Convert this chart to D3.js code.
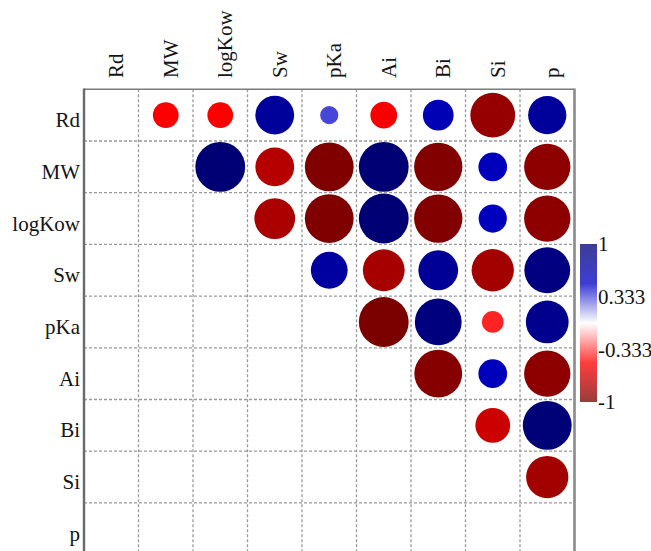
<!DOCTYPE html>
<html>
<head>
<meta charset="utf-8">
<script src="https://cdn.jsdelivr.net/npm/d3@7"></script>
<style>
  html, body { margin: 0; padding: 0; background: #fff; }
  svg { display: block; }
</style>
</head>
<body>
<svg id="chart" width="651" height="551"></svg>
<script>
// Variables of the correlation matrix
const variables = ["Rd", "MW", "logKow", "Sw", "pKa", "Ai", "Bi", "Si", "p"];

// Upper-triangle correlation coefficients, one array per row (columns to the right of the diagonal)
const rowRd     = [-0.51, -0.51, 0.77, 0.36, -0.53, 0.61, -0.89, 0.76];
const rowMW     = [0.99, -0.77, -0.97, 0.99, -0.96, 0.57, -0.92];
const rowLogKow = [-0.81, -0.97, 0.99, -0.96, 0.56, -0.92];
const rowSw     = [0.73, -0.83, 0.79, -0.84, 0.91];
const rowPKa    = [-0.99, 0.93, -0.43, 0.85];
const rowAi     = [-0.95, 0.57, -0.92];
const rowBi     = [-0.69, 0.97];
const rowSi     = [-0.84];
const upperRows = [rowRd, rowMW, rowLogKow, rowSw, rowPKa, rowAi, rowBi, rowSi, []];

// Colour bar tick labels
const legendTicks = [1, 0.333, -0.333, -1];

const FONT = "'Liberation Serif', 'Times New Roman', Times, serif";
const FONT_SIZE = 21;

// Flatten into cell records
const cells = [];
upperRows.forEach((vals, i) => {
  vals.forEach((v, k) => {
    const j = i + 1 + k;
    cells.push({ row: variables[i], col: variables[j], value: v });
  });
});

const svg = d3.select("#chart");

// Plot frame
const frameLeft = 84, frameRight = 574.5, frameTop = 89.3, rowH = 51.7;
const frameBottom = frameTop + rowH * variables.length;

const x = d3.scaleBand().domain(variables).range([frameLeft, frameRight]).padding(0);
const y = d3.scaleBand().domain(variables).range([frameTop, frameBottom]).padding(0);

// Diverging colour scale: dark red -> red -> white -> blue -> navy
const color = d3.scaleLinear()
  .domain([-1, -0.5, 0, 0.5, 1])
  .range(["#780000", "#ff0000", "#ffffff", "#0000c8", "#000072"])
  .interpolate(d3.interpolateRgb);

// Circle radius proportional to |r|
const radius = d3.scaleLinear().domain([0, 1]).range([0, y.bandwidth() * 0.487]);

// Dashed cell grid
const grid = svg.append("g").attr("class", "grid");
d3.range(1, variables.length).forEach(k => {
  const xv = frameLeft + x.step() * k;
  grid.append("line")
    .attr("x1", xv).attr("x2", xv).attr("y1", frameTop).attr("y2", frameBottom);
});
d3.range(1, variables.length + 1).forEach(k => {
  const yv = frameTop + y.step() * k;
  grid.append("line")
    .attr("x1", frameLeft).attr("x2", frameRight).attr("y1", yv).attr("y2", yv);
});
grid.selectAll("line")
  .attr("stroke", "#9a9a9a")
  .attr("stroke-width", 1.3)
  .attr("stroke-dasharray", "3,2");

// Frame borders
svg.append("line").attr("x1", frameLeft).attr("x2", frameRight).attr("y1", frameTop).attr("y2", frameTop)
  .attr("stroke", "#7a7a7a").attr("stroke-width", 1.6);
svg.append("line").attr("x1", frameLeft).attr("x2", frameLeft).attr("y1", frameTop - 0.8).attr("y2", frameBottom)
  .attr("stroke", "#6a6a6a").attr("stroke-width", 2.4);
svg.append("line").attr("x1", frameRight).attr("x2", frameRight).attr("y1", frameTop - 0.8).attr("y2", frameBottom)
  .attr("stroke", "#8a8a8a").attr("stroke-width", 2.6);

// Correlation circles
svg.append("g").selectAll("circle")
  .data(cells)
  .join("circle")
  .attr("cx", d => x(d.col) + x.bandwidth() / 2)
  .attr("cy", d => y(d.row) + y.bandwidth() / 2)
  .attr("r", d => radius(Math.abs(d.value)))
  .attr("fill", d => color(d.value));

// Shared label styling
function styleLabels(g) {
  g.attr("font-family", FONT).attr("font-size", FONT_SIZE);
  g.select(".domain").remove();
  g.selectAll("text")
    .style("font-family", FONT)
    .style("font-size", FONT_SIZE + "px")
    .attr("fill", "#141414");
}

// Row labels
const yAxis = svg.append("g")
  .attr("transform", "translate(80,0)")
  .call(d3.axisLeft(y).tickSize(0).tickPadding(0));
styleLabels(yAxis);
yAxis.selectAll("text")
  .attr("x", 0)
  .attr("dy", "0.57em");

// Column labels, rotated
const xAxis = svg.append("g")
  .attr("transform", "translate(0,78)")
  .call(d3.axisTop(x).tickSize(0).tickPadding(0));
styleLabels(xAxis);
xAxis.selectAll("text")
  .attr("transform", "rotate(-90)")
  .attr("x", 0)
  .attr("y", 0)
  .attr("dy", "0.57em")
  .attr("text-anchor", "start");

// Colour bar legend
const barX = 580, barW = 17, barTop = 244, barBottom = 402;
const legendScale = d3.scaleLinear().domain([1, -1]).range([barTop, barBottom]);

const defs = svg.append("defs");
const grad = defs.append("linearGradient")
  .attr("id", "corrGrad")
  .attr("x1", 0).attr("x2", 0).attr("y1", 0).attr("y2", 1);
d3.range(0, 1.0001, 0.05).forEach(t => {
  const v = 1 - 2 * t;
  grad.append("stop")
    .attr("offset", `${t * 100}%`)
    .attr("stop-color", color(v));
});

svg.append("rect")
  .attr("x", barX)
  .attr("y", barTop)
  .attr("width", barW)
  .attr("height", barBottom - barTop)
  .attr("fill", "url(#corrGrad)")
  .attr("opacity", 0.76);

const lAxis = svg.append("g")
  .attr("transform", `translate(${barX + barW},0)`)
  .call(d3.axisRight(legendScale).tickValues(legendTicks).tickSize(0).tickPadding(1)
    .tickFormat(d => String(d)));
styleLabels(lAxis);
</script>
</body>
</html>
